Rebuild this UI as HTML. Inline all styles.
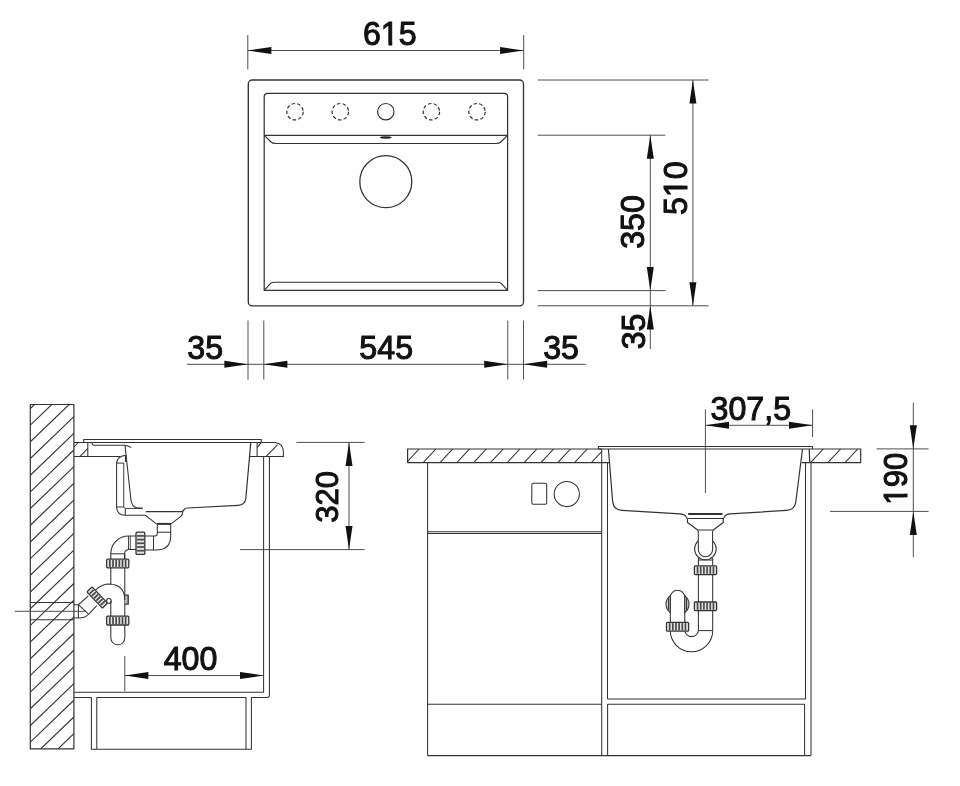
<!DOCTYPE html>
<html><head><meta charset="utf-8"><title>Sink drawing</title>
<style>
html,body{margin:0;padding:0;background:#fff;}
body{width:960px;height:786px;overflow:hidden;font-family:"Liberation Sans",sans-serif;}
svg{display:block;will-change:transform;opacity:0.9999}
svg *{vector-effect:none}
.g line,.g path,.g rect,.g circle,.g ellipse{fill:none;stroke:#333;stroke-width:1.05;stroke-linecap:butt;stroke-linejoin:round}
.g .d{stroke:#3c3c3c;stroke-width:0.9}
.g .ar{fill:#111;stroke:none}
.g .wf{fill:#e4e4e4;stroke-width:1.3}
.g .wf2{fill:#fff}
.g .ov{fill:#222;stroke:#222;stroke-width:0.9}
.g .t{font-family:"Liberation Sans",sans-serif;fill:#111;stroke:#111;stroke-width:1.0;stroke-linejoin:miter;text-anchor:middle}
.g .cv{fill:#fff;stroke:none}
</style></head><body>
<svg class="g" width="960" height="786" viewBox="0 0 960 786">
<rect x="0" y="0" width="960" height="786" style="fill:#fff;stroke:none"/>
<g id="top">
<line class="d" x1="247.80" y1="35.00" x2="247.80" y2="69.50"/>
<line class="d" x1="523.70" y1="35.00" x2="523.70" y2="69.50"/>
<line class="d" x1="247.80" y1="50.50" x2="523.70" y2="50.50"/>
<polygon class="ar" points="247.80,50.50 271.40,47.00 271.40,54.00"/>
<polygon class="ar" points="523.70,50.50 500.10,47.00 500.10,54.00"/>
<g transform="translate(389.80,45.20) scale(1,1.04)"><text class="t" font-size="32.2">615</text><rect class="cv" x="-8.40" y="-3.31" width="7.04" height="5.41"/><rect class="cv" x="2.49" y="-3.31" width="6.79" height="5.41"/></g>
<rect x="248.3" y="80" width="275.2" height="225.9" rx="4" style="stroke-width:1.35"/>
<path d="M264.2 290.4 L264.2 96.9 Q264.2 93.4 267.7 93.4 L504.1 93.4 Q507.6 93.4 507.6 96.9 L507.6 290.4 Z" style="stroke-width:1.25;"/>
<line x1="264.20" y1="135.40" x2="507.60" y2="135.40" style="stroke-width:1.2;"/>
<path d="M264.2 135.4 L271 142 Q272.5 143.5 276 143.5 L495.8 143.5 Q499.3 143.5 500.8 142 L507.6 135.4" style="stroke-width:1.15;"/>
<path d="M264.2 290.4 L270.8 283.2 Q271.8 282.2 275 282.2 L496.8 282.2 Q500 282.2 501 283.2 L507.6 290.4" style="stroke-width:1.15;"/>
<circle cx="295" cy="111.7" r="8.2" style="stroke-dasharray:3.6 2.2;stroke-width:1.2"/>
<circle cx="340.3" cy="111.7" r="8.2" style="stroke-dasharray:3.6 2.2;stroke-width:1.2"/>
<circle cx="431.4" cy="111.7" r="8.2" style="stroke-dasharray:3.6 2.2;stroke-width:1.2"/>
<circle cx="477" cy="111.7" r="8.2" style="stroke-dasharray:3.6 2.2;stroke-width:1.2"/>
<circle cx="385.8" cy="111.7" r="8.2" style="stroke-width:1.2"/>
<ellipse cx="385.8" cy="137.5" rx="5.5" ry="0.7" class="ov"/>
<circle cx="385.8" cy="181.7" r="26" style="stroke-width:1.3"/>
<line class="d" x1="537.70" y1="80.00" x2="708.50" y2="80.00"/>
<line class="d" x1="537.70" y1="135.20" x2="665.40" y2="135.20"/>
<line class="d" x1="537.70" y1="290.60" x2="665.40" y2="290.60"/>
<line class="d" x1="537.70" y1="305.80" x2="708.50" y2="305.80"/>
<line class="d" x1="692.90" y1="80.00" x2="692.90" y2="305.80"/>
<line class="d" x1="650.30" y1="135.20" x2="650.30" y2="349.00"/>
<polygon class="ar" points="692.90,80.00 689.40,103.60 696.40,103.60"/>
<polygon class="ar" points="692.90,305.80 689.40,282.20 696.40,282.20"/>
<polygon class="ar" points="650.30,135.20 646.80,158.80 653.80,158.80"/>
<polygon class="ar" points="650.30,290.60 646.80,267.00 653.80,267.00"/>
<polygon class="ar" points="650.30,305.80 646.80,329.40 653.80,329.40"/>
<g transform="translate(687.00,188.10) rotate(-90) scale(1,1.04)"><text class="t" font-size="32.2">510</text><rect class="cv" x="-8.40" y="-3.31" width="7.04" height="5.41"/><rect class="cv" x="2.49" y="-3.31" width="6.79" height="5.41"/></g>
<g transform="translate(644.40,222.00) rotate(-90) scale(1,1.04)"><text class="t" font-size="32.2">350</text></g>
<g transform="translate(644.90,331.40) rotate(-90) scale(1,1.04)"><text class="t" font-size="32.2">35</text></g>
<line class="d" x1="248.00" y1="320.50" x2="248.00" y2="379.50"/>
<line class="d" x1="263.80" y1="320.50" x2="263.80" y2="379.50"/>
<line class="d" x1="507.80" y1="320.50" x2="507.80" y2="379.50"/>
<line class="d" x1="523.50" y1="320.50" x2="523.50" y2="379.50"/>
<line class="d" x1="187.00" y1="364.30" x2="586.00" y2="364.30"/>
<polygon class="ar" points="248.00,364.30 224.40,360.80 224.40,367.80"/>
<polygon class="ar" points="263.80,364.30 287.40,360.80 287.40,367.80"/>
<polygon class="ar" points="507.80,364.30 484.20,360.80 484.20,367.80"/>
<polygon class="ar" points="523.50,364.30 547.10,360.80 547.10,367.80"/>
<g transform="translate(205.20,358.90) scale(1,1.04)"><text class="t" font-size="32.2">35</text></g>
<g transform="translate(386.20,358.90) scale(1,1.04)"><text class="t" font-size="32.2">545</text></g>
<g transform="translate(561.10,358.90) scale(1,1.04)"><text class="t" font-size="32.2">35</text></g>
</g>
<g id="left">
<clipPath id="cw"><rect x="30.3" y="404.5" width="43.6" height="344.3"/></clipPath>
<g clip-path="url(#cw)">
<line x1="30.30" y1="408.50" x2="76.30" y2="364.24" style="stroke-width:1.15;"/>
<line x1="30.30" y1="425.19" x2="76.30" y2="380.93" style="stroke-width:1.15;"/>
<line x1="30.30" y1="441.87" x2="76.30" y2="397.61" style="stroke-width:1.15;"/>
<line x1="30.30" y1="458.56" x2="76.30" y2="414.30" style="stroke-width:1.15;"/>
<line x1="30.30" y1="475.24" x2="76.30" y2="430.98" style="stroke-width:1.15;"/>
<line x1="30.30" y1="491.93" x2="76.30" y2="447.67" style="stroke-width:1.15;"/>
<line x1="30.30" y1="508.61" x2="76.30" y2="464.35" style="stroke-width:1.15;"/>
<line x1="30.30" y1="525.29" x2="76.30" y2="481.03" style="stroke-width:1.15;"/>
<line x1="30.30" y1="541.98" x2="76.30" y2="497.72" style="stroke-width:1.15;"/>
<line x1="30.30" y1="558.66" x2="76.30" y2="514.40" style="stroke-width:1.15;"/>
<line x1="30.30" y1="575.35" x2="76.30" y2="531.09" style="stroke-width:1.15;"/>
<line x1="30.30" y1="592.03" x2="76.30" y2="547.77" style="stroke-width:1.15;"/>
<line x1="30.30" y1="608.72" x2="76.30" y2="564.46" style="stroke-width:1.15;"/>
<line x1="30.30" y1="625.40" x2="76.30" y2="581.14" style="stroke-width:1.15;"/>
<line x1="30.30" y1="642.09" x2="76.30" y2="597.83" style="stroke-width:1.15;"/>
<line x1="30.30" y1="658.77" x2="76.30" y2="614.51" style="stroke-width:1.15;"/>
<line x1="30.30" y1="675.46" x2="76.30" y2="631.20" style="stroke-width:1.15;"/>
<line x1="30.30" y1="692.14" x2="76.30" y2="647.88" style="stroke-width:1.15;"/>
<line x1="30.30" y1="708.83" x2="76.30" y2="664.57" style="stroke-width:1.15;"/>
<line x1="30.30" y1="725.51" x2="76.30" y2="681.25" style="stroke-width:1.15;"/>
<line x1="30.30" y1="742.20" x2="76.30" y2="697.94" style="stroke-width:1.15;"/>
<line x1="30.30" y1="758.88" x2="76.30" y2="714.62" style="stroke-width:1.15;"/>
<line x1="30.30" y1="775.57" x2="76.30" y2="731.31" style="stroke-width:1.15;"/>
<line x1="30.30" y1="792.25" x2="76.30" y2="747.99" style="stroke-width:1.15;"/>
<line x1="30.30" y1="808.94" x2="76.30" y2="764.68" style="stroke-width:1.15;"/>
</g>
<rect x="30.3" y="404.5" width="43.6" height="344.3" style="stroke-width:1.2"/>
<line x1="30.30" y1="602.50" x2="73.90" y2="602.50"/>
<line x1="30.30" y1="619.70" x2="73.90" y2="619.70"/>
<line class="d" x1="14.70" y1="611.30" x2="86.00" y2="611.30"/>
<path d="M83.7 442.5 L83.7 439.5 L261.3 439.5 L261.3 442.5" style="stroke-width:1.05;"/>
<line x1="73.90" y1="442.50" x2="275.00" y2="442.50" style="stroke-width:1.05;"/>
<path d="M87.8 442.5 L87.8 456.4 M73.9 456.4 L120.3 456.4"/>
<path d="M73.9 447 L78.4 442.5 M80 456.4 L87.8 448.4"/>
<path d="M91.6 442.5 L92.6 444.6 Q93 445.2 94 445.2 L124.5 445.2 Q128.5 445.4 131.2 447.7"/>
<path d="M125.4 455.3 Q117 456.5 116.6 463.1 L116.6 506.9 Q117 514.8 124.6 515.3 L145.6 515.3 L156.4 523.9"/>
<path d="M123.75 463.1 L123.75 507.2 L125.3 508.4 L142.5 508.4 M116.6 463.1 L123.75 463.1 M116.6 507 L123.75 507" style="stroke-width:0.95;"/>
<line x1="125.70" y1="455.20" x2="125.70" y2="462.00" style="stroke-width:1.5;"/>
<line x1="125.30" y1="508.40" x2="125.30" y2="515.30"/>
<path d="M125 445.2 L130.9 499.5 Q131.8 507 137 507.9 L142.5 508.4" style="stroke-width:1.1;"/>
<path d="M145.8 511.6 L181 511.6 Q183.4 511.6 184 509.8 Q184.8 508 187.5 508 L238 505.3 Q245 504.8 245.8 498.5 L250.8 442.4" style="stroke-width:1.2;"/>
<path d="M182.8 511.6 Q182.6 515 180.8 516.3 L171 523.8"/>
<line x1="156.60" y1="523.90" x2="171.00" y2="523.90" style="stroke-width:2;"/>
<path d="M157.3 524 L157.3 533.5 Q157.3 536 154.8 536 L144.8 536"/>
<path d="M170.7 524 L170.7 536 Q170.7 550 156 550 L144.8 550"/>
<line x1="157.30" y1="532.20" x2="170.70" y2="532.20"/>
<line x1="153.50" y1="536.00" x2="153.50" y2="550.00"/>
<path d="M136 536 L128.6 536 A17.8 17.8 0 0 0 110.8 553.8 L110.8 559"/>
<path d="M136 549.5 L128.6 549.5 Q124.6 550 124.6 553.8 L124.6 559"/>
<line x1="128.60" y1="536.00" x2="128.60" y2="549.50"/>
<line x1="130.40" y1="536.00" x2="130.40" y2="549.50" style="stroke-width:0.8;"/>
<line x1="110.80" y1="553.80" x2="124.50" y2="553.80"/>
<rect x="136.00" y="532.20" width="8.80" height="22.20" rx="1" class="wf"/>
<line x1="136.80" y1="535.90" x2="144.00" y2="535.90" style="stroke-width:1.7;stroke:#4a4a4a;"/>
<line x1="136.80" y1="539.60" x2="144.00" y2="539.60" style="stroke-width:1.7;stroke:#4a4a4a;"/>
<line x1="136.80" y1="543.30" x2="144.00" y2="543.30" style="stroke-width:1.7;stroke:#4a4a4a;"/>
<line x1="136.80" y1="547.00" x2="144.00" y2="547.00" style="stroke-width:1.7;stroke:#4a4a4a;"/>
<line x1="136.80" y1="550.70" x2="144.00" y2="550.70" style="stroke-width:1.7;stroke:#4a4a4a;"/>
<path d="M110.8 567.8 L110.8 584.5 M110.8 601 L110.8 637.8 A7 7 0 0 0 124.8 637.8 L124.8 553.8"/>
<rect x="106.70" y="559.20" width="22.10" height="8.60" rx="1" class="wf"/>
<line x1="109.86" y1="560.00" x2="109.86" y2="567.00" style="stroke-width:1.7;stroke:#4a4a4a;"/>
<line x1="113.01" y1="560.00" x2="113.01" y2="567.00" style="stroke-width:1.7;stroke:#4a4a4a;"/>
<line x1="116.17" y1="560.00" x2="116.17" y2="567.00" style="stroke-width:1.7;stroke:#4a4a4a;"/>
<line x1="119.33" y1="560.00" x2="119.33" y2="567.00" style="stroke-width:1.7;stroke:#4a4a4a;"/>
<line x1="122.49" y1="560.00" x2="122.49" y2="567.00" style="stroke-width:1.7;stroke:#4a4a4a;"/>
<line x1="125.64" y1="560.00" x2="125.64" y2="567.00" style="stroke-width:1.7;stroke:#4a4a4a;"/>
<rect x="106.70" y="616.20" width="22.10" height="8.80" rx="1" class="wf"/>
<line x1="109.86" y1="617.00" x2="109.86" y2="624.20" style="stroke-width:1.7;stroke:#4a4a4a;"/>
<line x1="113.01" y1="617.00" x2="113.01" y2="624.20" style="stroke-width:1.7;stroke:#4a4a4a;"/>
<line x1="116.17" y1="617.00" x2="116.17" y2="624.20" style="stroke-width:1.7;stroke:#4a4a4a;"/>
<line x1="119.33" y1="617.00" x2="119.33" y2="624.20" style="stroke-width:1.7;stroke:#4a4a4a;"/>
<line x1="122.49" y1="617.00" x2="122.49" y2="624.20" style="stroke-width:1.7;stroke:#4a4a4a;"/>
<line x1="125.64" y1="617.00" x2="125.64" y2="624.20" style="stroke-width:1.7;stroke:#4a4a4a;"/>
<path class="wf" d="M124.8 595.2 L128.2 595.2 L128.2 604.2 L124.8 604.2" style="fill:#bbb"/>
<path d="M95.6 589.8 Q102 584 109.3 584 Q124.8 584.6 124.8 600"/>
<circle cx="108.9" cy="600.9" r="2.4"/>
<g transform="translate(97.2,597.5) rotate(46.5)">
<rect x="-11.2" y="-3.6" width="22.4" height="7.2" rx="1" class="wf"/>
<line x1="-8.00" y1="-2.8" x2="-8.00" y2="2.8" style="stroke-width:1.7;stroke:#4a4a4a"/>
<line x1="-4.80" y1="-2.8" x2="-4.80" y2="2.8" style="stroke-width:1.7;stroke:#4a4a4a"/>
<line x1="-1.60" y1="-2.8" x2="-1.60" y2="2.8" style="stroke-width:1.7;stroke:#4a4a4a"/>
<line x1="1.60" y1="-2.8" x2="1.60" y2="2.8" style="stroke-width:1.7;stroke:#4a4a4a"/>
<line x1="4.80" y1="-2.8" x2="4.80" y2="2.8" style="stroke-width:1.7;stroke:#4a4a4a"/>
<line x1="8.00" y1="-2.8" x2="8.00" y2="2.8" style="stroke-width:1.7;stroke:#4a4a4a"/>
</g>
<path d="M88.3 596 L78.4 604.7 L73.9 604.7"/>
<path d="M96.8 605.6 L88.2 614.6 Q84.5 618 79 618 L73.9 618"/>
<line x1="78.40" y1="604.70" x2="78.40" y2="618.00"/>
<line x1="78.40" y1="604.70" x2="88.00" y2="613.60"/>
<path d="M275 442.4 Q283.4 443.4 283.4 451.8 L283.4 456.4 L250 456.4"/>
<path d="M261.3 442.4 L257.2 447.6"/>
<line x1="257.10" y1="442.40" x2="257.10" y2="456.40"/>
<line x1="277.60" y1="444.60" x2="266.20" y2="456.40"/>
<line x1="263.60" y1="456.40" x2="263.60" y2="692.30"/>
<path d="M269.4 456.4 L269.4 695.2 Q269.4 697.4 267.2 697.4 L251.4 697.4 L251.4 749.2 L91.4 749.2 L91.4 697.4 L73.9 697.4"/>
<line x1="73.90" y1="692.30" x2="263.60" y2="692.30"/>
<path d="M96.8 749.2 L96.8 697.4 L246 697.4 L246 749.2"/>
<line class="d" x1="296.30" y1="442.40" x2="364.60" y2="442.40"/>
<line class="d" x1="240.00" y1="549.60" x2="364.60" y2="549.60"/>
<line class="d" x1="349.00" y1="442.40" x2="349.00" y2="549.60"/>
<polygon class="ar" points="349.00,442.40 345.50,466.00 352.50,466.00"/>
<polygon class="ar" points="349.00,549.60 345.50,526.00 352.50,526.00"/>
<g transform="translate(338.30,496.85) rotate(-90) scale(1,1.04)"><text class="t" font-size="31">320</text></g>
<line class="d" x1="124.80" y1="656.00" x2="124.80" y2="691.20"/>
<line class="d" x1="124.80" y1="675.50" x2="263.60" y2="675.50"/>
<polygon class="ar" points="124.80,675.50 148.40,672.00 148.40,679.00"/>
<polygon class="ar" points="263.60,675.50 240.00,672.00 240.00,679.00"/>
<g transform="translate(190.50,669.70) scale(1,1.04)"><text class="t" font-size="32.2">400</text></g>
</g>
<g id="right">
<clipPath id="c1"><rect x="407.6" y="449" width="194.1" height="13.6"/></clipPath>
<g clip-path="url(#c1)">
<line x1="406.38" y1="462.60" x2="419.08" y2="449.00"/>
<line x1="423.20" y1="462.60" x2="435.90" y2="449.00"/>
<line x1="440.02" y1="462.60" x2="452.72" y2="449.00"/>
<line x1="456.84" y1="462.60" x2="469.54" y2="449.00"/>
<line x1="473.66" y1="462.60" x2="486.36" y2="449.00"/>
<line x1="490.48" y1="462.60" x2="503.18" y2="449.00"/>
<line x1="507.30" y1="462.60" x2="520.00" y2="449.00"/>
<line x1="524.12" y1="462.60" x2="536.82" y2="449.00"/>
<line x1="540.94" y1="462.60" x2="553.64" y2="449.00"/>
<line x1="557.76" y1="462.60" x2="570.46" y2="449.00"/>
<line x1="574.58" y1="462.60" x2="587.28" y2="449.00"/>
<line x1="591.40" y1="462.60" x2="604.10" y2="449.00"/>
<line x1="608.22" y1="462.60" x2="620.92" y2="449.00"/>
</g>
<path d="M601.7 449 L407.6 449 L407.6 462.6 L609.7 462.6" style="stroke-width:1.2;"/>
<clipPath id="c2"><rect x="809.5" y="449" width="51.2" height="13.6"/></clipPath>
<g clip-path="url(#c2)">
<line x1="810.50" y1="462.60" x2="823.30" y2="449.00"/>
<line x1="827.80" y1="462.60" x2="840.60" y2="449.00"/>
<line x1="845.00" y1="462.60" x2="857.80" y2="449.00"/>
</g>
<path d="M812.5 449 L860.7 449 L860.7 462.6 L801.6 462.6 M809.2 449 L809.8 462.6" style="stroke-width:1.2;"/>
<path d="M598.4 449 L598.4 446.5 L812.5 446.5 L812.5 449"/>
<line x1="598.40" y1="449.00" x2="812.50" y2="449.00"/>
<path d="M608.4 449 L612.6 501 Q613.3 510 622 510.4 L680 513.9 Q684.5 514.2 686 516.5 Q687.5 518.5 687.5 520 L687.5 522.4 L698.3 530.4 M802.5 449 L795.8 502 Q794.5 510 786.5 510.4 L730 513.9 Q726 514.2 724.6 516.5 Q723.2 518.5 723.2 520 L723.2 522.4 L712.6 530.4" style="stroke-width:1.2;"/>
<line x1="688.20" y1="514.00" x2="722.50" y2="514.00" style="stroke-width:1.8;"/>
<line x1="687.50" y1="518.50" x2="723.20" y2="518.50"/>
<line x1="698.30" y1="530.40" x2="712.60" y2="530.40" style="stroke-width:1.8;"/>
<circle cx="705.4" cy="549" r="10.8"/>
<path class="wf2" d="M698.3 530.4 L698.3 549.5 A7.15 7.15 0 0 0 712.6 549.5 L712.6 530.4"/>
<path d="M698.4 558 L698.4 630.6 M712.7 558 L712.7 630.6"/>
<line x1="698.40" y1="560.00" x2="712.70" y2="560.00"/>
<line x1="698.40" y1="630.60" x2="712.70" y2="630.60"/>
<rect x="694.40" y="565.80" width="22.20" height="8.80" rx="1" class="wf"/>
<line x1="697.57" y1="566.60" x2="697.57" y2="573.80" style="stroke-width:1.7;stroke:#4a4a4a;"/>
<line x1="700.74" y1="566.60" x2="700.74" y2="573.80" style="stroke-width:1.7;stroke:#4a4a4a;"/>
<line x1="703.91" y1="566.60" x2="703.91" y2="573.80" style="stroke-width:1.7;stroke:#4a4a4a;"/>
<line x1="707.09" y1="566.60" x2="707.09" y2="573.80" style="stroke-width:1.7;stroke:#4a4a4a;"/>
<line x1="710.26" y1="566.60" x2="710.26" y2="573.80" style="stroke-width:1.7;stroke:#4a4a4a;"/>
<line x1="713.43" y1="566.60" x2="713.43" y2="573.80" style="stroke-width:1.7;stroke:#4a4a4a;"/>
<rect x="694.40" y="602.00" width="22.20" height="8.60" rx="1" class="wf"/>
<line x1="697.57" y1="602.80" x2="697.57" y2="609.80" style="stroke-width:1.7;stroke:#4a4a4a;"/>
<line x1="700.74" y1="602.80" x2="700.74" y2="609.80" style="stroke-width:1.7;stroke:#4a4a4a;"/>
<line x1="703.91" y1="602.80" x2="703.91" y2="609.80" style="stroke-width:1.7;stroke:#4a4a4a;"/>
<line x1="707.09" y1="602.80" x2="707.09" y2="609.80" style="stroke-width:1.7;stroke:#4a4a4a;"/>
<line x1="710.26" y1="602.80" x2="710.26" y2="609.80" style="stroke-width:1.7;stroke:#4a4a4a;"/>
<line x1="713.43" y1="602.80" x2="713.43" y2="609.80" style="stroke-width:1.7;stroke:#4a4a4a;"/>
<path d="M712.7 630.6 A21.2 21.2 0 0 1 670.3 630.6 L670.3 597.5 A7.25 7.25 0 0 1 684.8 597.5 L684.8 630.6 A6.85 6.85 0 0 0 698.4 630.6"/>
<path d="M670.3 595.6 Q666 599 666 604 Q666 609.5 670.3 612.6 Z" style="stroke-width:1.05;fill:#ccc;"/>
<line x1="668.60" y1="598.00" x2="668.60" y2="610.40"/>
<path d="M684.8 595.6 Q689 599 689 604 Q689 609.5 684.8 612.6 Z" style="stroke-width:1.05;fill:#ccc;"/>
<line x1="686.60" y1="598.00" x2="686.60" y2="610.40"/>
<rect x="666.50" y="622.30" width="22.10" height="8.90" rx="1" class="wf"/>
<line x1="669.66" y1="623.10" x2="669.66" y2="630.40" style="stroke-width:1.7;stroke:#4a4a4a;"/>
<line x1="672.81" y1="623.10" x2="672.81" y2="630.40" style="stroke-width:1.7;stroke:#4a4a4a;"/>
<line x1="675.97" y1="623.10" x2="675.97" y2="630.40" style="stroke-width:1.7;stroke:#4a4a4a;"/>
<line x1="679.13" y1="623.10" x2="679.13" y2="630.40" style="stroke-width:1.7;stroke:#4a4a4a;"/>
<line x1="682.29" y1="623.10" x2="682.29" y2="630.40" style="stroke-width:1.7;stroke:#4a4a4a;"/>
<line x1="685.44" y1="623.10" x2="685.44" y2="630.40" style="stroke-width:1.7;stroke:#4a4a4a;"/>
<line class="d" x1="705.40" y1="409.40" x2="705.40" y2="493.00"/>
<line class="d" x1="812.60" y1="409.40" x2="812.60" y2="437.00"/>
<line class="d" x1="705.40" y1="425.30" x2="812.60" y2="425.30"/>
<polygon class="ar" points="705.40,425.30 729.00,421.80 729.00,428.80"/>
<polygon class="ar" points="812.60,425.30 789.00,421.80 789.00,428.80"/>
<g transform="translate(750.80,420.00) scale(1,1.04)"><text class="t" font-size="32.2">307,5</text></g>
<line x1="427.60" y1="462.60" x2="427.60" y2="755.60"/>
<line x1="427.60" y1="531.70" x2="601.70" y2="531.70"/>
<line x1="427.60" y1="533.40" x2="601.70" y2="533.40"/>
<line x1="427.50" y1="704.20" x2="601.70" y2="704.20"/>
<line x1="601.70" y1="449.00" x2="601.70" y2="755.60"/>
<line x1="607.50" y1="462.60" x2="607.50" y2="699.00"/>
<rect x="531.8" y="483.2" width="14.9" height="21.1" rx="1.5"/>
<circle cx="566.8" cy="494" r="12.6"/>
<path d="M607.5 699 L805.5 699 L805.5 462.6"/>
<line x1="811.00" y1="462.60" x2="811.00" y2="755.60"/>
<path d="M607.6 755.6 L607.6 704.2 L804.6 704.2 L804.6 755.6"/>
<line x1="427.50" y1="755.60" x2="811.00" y2="755.60"/>
<line class="d" x1="913.30" y1="402.60" x2="913.30" y2="557.20"/>
<line class="d" x1="876.60" y1="448.90" x2="928.60" y2="448.90"/>
<line class="d" x1="830.00" y1="511.40" x2="928.60" y2="511.40"/>
<polygon class="ar" points="913.30,448.90 909.80,425.30 916.80,425.30"/>
<polygon class="ar" points="913.30,511.40 909.80,535.00 916.80,535.00"/>
<g transform="translate(907.00,478.70) rotate(-90) scale(1,1.04)"><text class="t" font-size="31.2">190</text><rect class="cv" x="-25.55" y="-3.23" width="6.87" height="5.33"/><rect class="cv" x="-14.92" y="-3.23" width="6.63" height="5.33"/></g>
</g>
</svg>
</body></html>
